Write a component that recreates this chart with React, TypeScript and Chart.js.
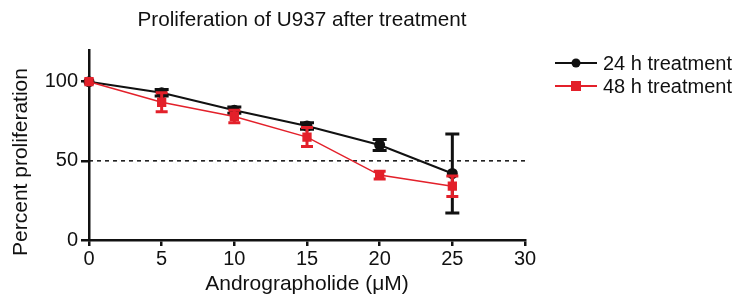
import React, { useEffect, useRef } from "react";
import { Chart, registerables } from "chart.js";

Chart.register(...registerables);

const titleText = "Proliferation of U937 after treatment";
const xTitle = "Andrographolide (μM)";
const yTitle = "Percent proliferation";
const doses = [0, 5, 10, 15, 20, 25];
const h24Label = "24 h treatment";
const h24 = [100, 93, 82, 72, 60, 42];
const h24Err = [0, 2, 2, 2, 3.5, 25];
const h48Label = "48 h treatment";
const h48 = [100, 87, 78, 65, 41, 34];
const h48Err = [0, 6, 4, 6, 2.5, 6.5];
const xTicks = [0, 5, 10, 15, 20, 25, 30];
const yTicks = [0, 50, 100];
const threshold = 50;

const FONT = "'Liberation Sans', Arial, sans-serif";
const BLACK = "#111111";
const RED = "#e3202a";

const errorBarPlugin = {
  id: "errorBars",
  afterDatasetDraw(chart: any, args: any) {
    const ds = chart.data.datasets[args.index];
    if (!ds.errors) return;
    const ctx = chart.ctx;
    const xs = chart.scales.x;
    const ys = chart.scales.y;
    ctx.save();
    ctx.strokeStyle = ds.borderColor;
    ctx.lineWidth = ds.errWidth || 2.5;
    ds.data.forEach((p: any, i: number) => {
      const e = ds.errors[i];
      if (!e) return;
      const px = xs.getPixelForValue(p.x);
      const top = ys.getPixelForValue(p.y + e);
      const bot = ys.getPixelForValue(p.y - e);
      const cap = ds.capHalf || 6;
      ctx.beginPath();
      ctx.moveTo(px, top);
      ctx.lineTo(px, bot);
      ctx.moveTo(px - cap, top);
      ctx.lineTo(px + cap, top);
      ctx.moveTo(px - cap, bot);
      ctx.lineTo(px + cap, bot);
      ctx.stroke();
    });
    ctx.restore();
  },
};

const textPlugin = {
  id: "texts",
  afterDraw(chart: any) {
    const ctx = chart.ctx;
    ctx.save();
    ctx.fillStyle = BLACK;
    ctx.textAlign = "center";
    ctx.textBaseline = "middle";
    ctx.font = `20.7px ${FONT}`;
    ctx.fillText(titleText, 302, 20);
    ctx.font = `21px ${FONT}`;
    ctx.fillText(xTitle, 307, 284);
    ctx.save();
    ctx.translate(21, 162);
    ctx.rotate(-Math.PI / 2);
    ctx.fillText(yTitle, 0, 0);
    ctx.restore();
    // legend
    const rows = [
      { label: chart.data.datasets[0].label, color: BLACK, shape: "circle", y: 63 },
      { label: chart.data.datasets[1].label, color: RED, shape: "square", y: 86 },
    ];
    ctx.textAlign = "left";
    ctx.font = `20px ${FONT}`;
    rows.forEach((r) => {
      ctx.strokeStyle = r.color;
      ctx.fillStyle = r.color;
      ctx.lineWidth = 2;
      ctx.beginPath();
      ctx.moveTo(555, r.y);
      ctx.lineTo(597, r.y);
      ctx.stroke();
      if (r.shape === "circle") {
        ctx.beginPath();
        ctx.arc(576, r.y, 4.5, 0, Math.PI * 2);
        ctx.fill();
      } else {
        ctx.fillRect(571, r.y - 5, 10, 10);
      }
      ctx.fillStyle = BLACK;
      ctx.fillText(r.label, 603, r.y + 1);
    });
    ctx.restore();
  },
};

export default function App() {
  const ref = useRef<HTMLCanvasElement>(null);
  useEffect(() => {
    if (!ref.current) return;
    const chart = new Chart(ref.current, {
      type: "scatter",
      data: {
        datasets: [
          {
            label: h24Label,
            data: doses.map((d, i) => ({ x: d, y: h24[i] })),
            errors: h24Err,
            capHalf: 7,
            errWidth: 3,
            showLine: true,
            borderColor: BLACK,
            backgroundColor: BLACK,
            borderWidth: 2,
            pointStyle: "circle",
            pointRadius: 4.5,
            clip: false,
            order: 2,
          } as any,
          {
            label: h48Label,
            data: doses.map((d, i) => ({ x: d, y: h48[i] })),
            errors: h48Err,
            capHalf: 6,
            errWidth: 3,
            showLine: true,
            borderColor: RED,
            backgroundColor: RED,
            borderWidth: 1.5,
            pointStyle: "rect",
            pointRadius: 5.5,
            clip: false,
            order: 1,
          } as any,
          {
            label: "threshold",
            data: [
              { x: 0, y: threshold },
              { x: 30, y: threshold },
            ],
            showLine: true,
            borderColor: BLACK,
            borderWidth: 1.5,
            borderDash: [4, 4],
            pointRadius: 0,
            clip: false,
            order: 3,
          } as any,
        ],
      },
      options: {
        animation: false,
        responsive: false,
        events: [],
        layout: { padding: { left: 0, top: 50, right: 218, bottom: 0 } },
        plugins: { legend: { display: false }, title: { display: false }, tooltip: { enabled: false } },
        scales: {
          x: {
            type: "linear",
            min: 0,
            max: 30,
            afterBuildTicks: (s: any) => {
              s.ticks = xTicks.map((v) => ({ value: v }));
            },
            afterFit: (s: any) => {
              s.height = 55;
            },
            grid: { drawOnChartArea: false, drawTicks: true, tickLength: 6, color: BLACK, lineWidth: 2.5 },
            border: { color: BLACK, width: 2.5 },
            ticks: { color: BLACK, font: { family: FONT, size: 20 }, padding: 1, maxRotation: 0 },
          },
          y: {
            type: "linear",
            min: 0,
            max: 120,
            afterBuildTicks: (s: any) => {
              s.ticks = yTicks.map((v) => ({ value: v }));
            },
            afterFit: (s: any) => {
              s.width = 89;
            },
            grid: { drawOnChartArea: false, drawTicks: true, tickLength: 8, color: BLACK, lineWidth: 2.5 },
            border: { color: BLACK, width: 2.5 },
            ticks: { color: BLACK, font: { family: FONT, size: 20 }, padding: 3 },
          },
        },
      } as any,
      plugins: [errorBarPlugin, textPlugin],
    });
    return () => chart.destroy();
  }, []);
  return (
    <div style={{ position: "absolute", left: 0, top: 0, width: 743, height: 295, background: "#fff" }}>
      <canvas ref={ref} width={743} height={295} style={{ width: 743, height: 295 }} />
    </div>
  );
}
